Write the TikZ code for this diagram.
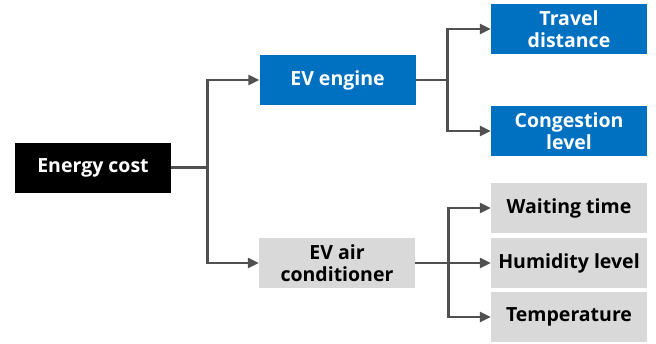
\documentclass[tikz,border=0pt]{standalone}
\usepackage{fontspec}
\setmainfont{Open Sans}
\definecolor{boxblue}{RGB}{0,112,192}
\definecolor{boxgray}{RGB}{217,217,217}
\definecolor{linegray}{RGB}{80,80,80}
\usetikzlibrary{arrows.meta,positioning,calc}

\begin{document}
\begin{tikzpicture}[x=1pt,y=-1pt,
      cell/.style={minimum width=156pt,minimum height=50pt,inner sep=0pt,
                   font=\fontsize{19.5}{22}\selectfont\bfseries,align=center},
      bluecell/.style={cell,fill=boxblue,text=white},
      graycell/.style={cell,fill=boxgray,text=black},
      rootcell/.style={cell,fill=black,text=white},
      arr/.style={-{Triangle[length=11pt,width=10pt]},draw=linegray,line width=2.8pt}
    ]
      \useasboundingbox (0,0) rectangle (656,343);
      % Root and first level
      \node[rootcell] (ec)  at (93,167.5) {Energy cost};
      \node[bluecell] (eng) at (337.5,80)  {EV engine};
      \node[graycell] (air) at (337,263)   {EV air\\conditioner};
      % Engine factors
      \node[bluecell] (td)  at (569,29)  {Travel\\distance};
      \node[bluecell] (cl)  at (569,131) {Congestion\\level};
      % Air conditioner factors
      \node[graycell] (wt)  at (569,208) {Waiting time};
      \node[graycell] (hl)  at (569,263) {Humidity level};
      \node[graycell] (tp)  at (569,317) {Temperature};
      % Connectors
      \draw[arr] (ec.east) -- ++(36,0) |- (eng.west);
      \draw[arr] (ec.east) -- ++(36,0) |- (air.west);
      \draw[arr] (eng.east) -- ++(32,0) |- (td.west);
      \draw[arr] (eng.east) -- ++(32,0) |- (cl.west);
      \draw[arr] (air.east) -- ++(33,0) |- (wt.west);
      \draw[arr] (air.east) -- (hl.west);
      \draw[arr] (air.east) -- ++(33,0) |- (tp.west);
    \end{tikzpicture}
\end{document}
